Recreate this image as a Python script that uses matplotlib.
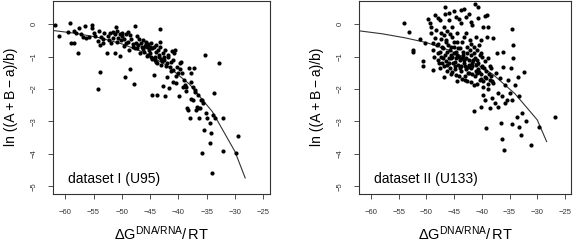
import matplotlib
matplotlib.use('Agg')
import matplotlib.pyplot as plt
import numpy as np

plt.rcParams['font.family'] = ['Liberation Sans', 'DejaVu Sans']
plt.rcParams['mathtext.fontset'] = 'custom'
plt.rcParams['mathtext.rm'] = 'Liberation Sans'
plt.rcParams['mathtext.it'] = 'Liberation Sans:italic'
plt.rcParams['mathtext.bf'] = 'Liberation Sans:bold'

# dataset I (U95): (dG/RT, ln((A+B-a)/b))
u95_x = [-61.9, -61.2, -59.1, -59.5, -59.0, -58.5, -58.1, -57.8, -57.6, -56.5,
         -56.8, -56.3, -55.3, -55.2, -55.0, -54.8, -54.3, -54.0, -54.3, -53.9,
         -53.8, -53.6, -53.3, -53.1, -52.7, -52.5, -52.1, -51.9, -51.6, -51.3,
         -51.2, -50.9, -50.6, -51.0, -50.3, -50.2, -50.0, -49.9, -49.7, -49.4,
         -49.3, -49.2, -48.9, -48.7, -48.5, -48.3, -48.1, -47.8, -47.7, -47.5,
         -47.4, -47.3, -47.1, -46.8, -46.6, -46.3, -46.2, -45.9, -45.8, -45.6,
         -45.5, -45.3, -45.2, -45.0, -44.9, -44.7, -44.6, -44.4, -44.3, -44.1,
         -43.9, -43.9, -43.7, -43.6, -43.4, -43.3, -43.3, -43.1, -43.0, -42.8,
         -42.7, -42.5, -42.4, -42.3, -42.1, -42.0, -41.8, -41.6, -41.5, -41.3,
         -41.2, -41.0, -40.9, -40.7, -40.6, -40.4, -40.3, -40.1, -39.9, -39.8,
         -39.6, -39.4, -39.1, -38.9, -38.7, -38.5, -38.3, -38.1, -37.9, -37.8,
         -37.7, -37.5, -37.4, -37.2, -37.1, -36.9, -36.7, -36.5, -36.3, -36.2,
         -36.0, -35.9, -35.7, -35.5, -35.3, -35.1, -34.9, -34.5, -34.4, -34.3,
         -34.1, -33.8, -33.7, -33.5, -32.9, -32.2, -32.1, -29.8, -29.5,
         -49.6, -49.0, -48.6, -48.0, -47.6, -47.0, -46.5, -46.0, -45.7, -45.4,
         -45.1, -44.8, -44.6, -44.2, -44.0, -43.8, -43.5, -43.2, -42.9, -42.6,
         -42.2, -41.9, -41.4, -40.9, -40.5, -39.7, -39.2, -38.6, -37.8, -37.0,
         -36.5, -35.8, -52.3, -51.6, -50.9, -50.4, -53.4, -55.8, -57.2, -58.4]
u95_y = [-0.03, -0.36, 0.02, -0.24, -0.59, -0.59, -0.29, -0.90, -0.13, -0.05,
         -0.39, -0.42, -0.03, -0.13, -0.29, -0.37, -0.51, -0.20, -2.00, -0.65,
         -1.47, -0.41, -0.59, -0.29, -0.90, -0.37, -0.27, -0.59, -0.44, -0.90,
         -0.32, -0.22, -0.42, -0.10, -0.98, -0.49, -0.37, -0.27, -0.67, -1.62,
         -0.32, -0.57, -0.24, -0.80, -1.39, -0.47, -0.70, -1.84, -0.06, -0.57,
         -0.37, -0.73, -0.65, -0.90, -0.59, -0.78, -0.49, -0.68, -0.54, -0.98,
         -0.72, -0.61, -0.80, -0.90, -0.57, -1.09, -2.18, -0.70, -1.57, -1.00,
         -0.65, -1.16, -2.18, -0.80, -0.95, -0.16, -0.54, -1.26, -1.09, -0.90,
         -1.91, -1.11, -2.23, -0.80, -1.62, -1.21, -1.00, -1.97, -1.31, -1.16,
         -0.82, -1.80, -1.41, -0.90, -0.80, -1.82, -1.31, -1.52, -2.23, -1.21,
         -1.16, -1.52, -1.72, -1.87, -1.93, -2.59, -2.64, -1.36, -2.90, -1.77,
         -1.52, -1.93, -2.34, -1.36, -2.03, -2.64, -2.54, -2.18, -2.90, -2.59,
         -2.34, -3.98, -2.44, -3.26, -0.95, -2.74, -2.90, -3.05, -3.67, -3.36,
         -4.59, -2.80, -2.11, -2.90, -1.19, -3.92, -2.90, -3.98, -3.44,
         -0.45, -0.55, -0.35, -0.60, -0.75, -0.45, -0.70, -0.85, -0.60, -0.95,
         -0.70, -1.00, -0.75, -1.10, -0.85, -1.20, -1.00, -0.70, -1.15, -1.00,
         -1.30, -0.95, -1.45, -1.10, -1.60, -1.40, -1.95, -2.05, -2.30, -2.10,
         -2.60, -2.35, -0.50, -0.25, -0.55, -0.30, -0.45, -0.40, -0.30, -0.20]

# dataset II (U133)
u133_x = [-54.0, -53.1, -51.2, -52.5, -52.4, -50.7, -50.6, -50.3, -49.7, -49.3,
          -49.1, -49.1, -48.9, -48.8, -48.6, -48.9, -48.5, -48.4, -48.2, -48.1,
          -47.9, -47.8, -47.6, -47.5, -47.3, -47.2, -47.0, -46.9, -46.8, -46.6,
          -46.5, -46.3, -46.2, -46.0, -45.9, -45.7, -45.6, -45.6, -45.4, -45.3,
          -45.1, -45.0, -44.9, -44.7, -44.6, -44.4, -44.3, -44.1, -44.0, -43.8,
          -43.7, -43.5, -43.4, -43.2, -43.1, -42.9, -42.8, -42.6, -42.5, -42.3,
          -42.2, -42.0, -41.8, -41.7, -41.5, -41.4, -41.3, -41.1, -40.9, -40.8,
          -40.7, -40.5, -40.4, -40.2, -40.2, -40.1, -39.9, -39.8, -39.7, -39.7,
          -39.5, -39.4, -39.2, -39.1, -39.0, -38.9, -38.8, -38.6, -38.5, -38.3,
          -38.2, -38.0, -37.9, -37.7, -37.5, -37.3, -37.1, -37.0, -36.7, -36.5,
          -36.4, -36.3, -36.1, -36.1, -36.0, -35.9, -35.8, -35.5, -35.2, -34.9,
          -34.8, -34.6, -34.5, -34.3, -34.3, -34.5, -34.0, -33.7, -33.4, -33.2,
          -33.2, -33.0, -32.8, -32.3, -32.1, -31.1, -29.7, -26.8,
          -47.0, -46.7, -46.4, -46.1, -45.8, -45.5, -45.2, -44.9, -44.6, -44.3,
          -44.0, -43.7, -43.4, -43.1, -42.8, -42.5, -42.2, -41.9, -41.6, -41.3,
          -41.0, -40.7, -40.4, -40.1, -39.8, -39.5, -39.2, -38.9, -38.6, -38.3,
          -47.3, -46.9, -46.5, -46.0, -45.6, -45.0, -44.7, -44.2, -43.9, -43.3,
          -43.0, -42.6, -42.3, -41.8, -41.5, -41.1, -40.6, -40.2, -39.9, -39.6,
          -45.9, -45.3, -44.8, -44.4, -43.8, -43.5, -42.9, -42.4, -41.7, -41.2,
          -40.8, -40.0, -39.3, -38.7, -38.1,
          -48.0, -47.6, -47.1, -46.2, -45.7, -44.5, -43.6, -42.7, -42.0, -40.9,
          -47.9, -47.4, -46.8, -46.3, -45.4, -44.5, -43.2, -42.0, -41.4, -40.5,
          -46.6, -45.1, -44.2, -43.3, -42.4, -41.9, -40.6, -39.4, -38.8, -47.9]
u133_y = [0.04, -0.26, -0.46, -0.80, -0.85, -1.13, -1.28, -0.59, 0.17, 0.04,
          -0.08, -0.29, -0.80, -0.59, -1.00, -1.43, -0.44, 0.28, -0.18, -0.65,
          -0.90, -1.19, 0.12, -1.36, -0.29, -0.70, -1.06, -1.62, -0.08, 0.53,
          -0.49, -0.85, -1.26, 0.33, 0.12, -0.32, -0.70, -1.06, -1.47, -0.08,
          -0.54, -0.90, -1.16, 0.23, -1.57, -0.29, -0.75, -1.00, -1.36, 0.43,
          0.02, -0.54, -0.85, -1.11, -1.72, 0.23, -0.29, -0.70, -1.31, -1.52,
          -0.49, -0.95, -1.21, -0.03, -1.87, -2.69, 0.61, -0.39, -0.80, -1.11,
          0.53, -1.47, -1.72, -0.49, -2.54, -0.90, -1.31, -2.18, -0.08, -1.93,
          -1.62, -2.34, -3.21, 0.28, -0.39, -1.06, -2.00, -1.72, -2.59, -1.36,
          -2.28, -0.44, -1.82, -2.44, -1.52, -0.90, -2.13, -2.54, -1.67, -3.05,
          -2.23, -3.54, -0.85, -1.31, -3.87, -1.87, -2.44, -2.34, -1.72, -2.13,
          -1.36, -2.34, -0.15, -0.65, -1.06, -3.07, -1.87, -2.85, -1.62, -2.23,
          -3.16, -3.41, -2.75, -1.47, -3.00, -3.74, -3.16, -2.85,
          -0.75, -0.95, -1.15, -0.65, -1.35, -0.95, -1.20, -1.40, -0.85, -1.25,
          -1.10, -1.45, -0.95, -1.30, -1.05, -1.50, -0.80, -1.35, -1.10, -1.60,
          -1.25, -1.40, -0.95, -1.55, -1.75, -1.15, -1.45, -1.85, -1.30, -1.60,
          -1.00, -1.30, -0.55, -1.05, -1.55, -0.70, -1.05, -1.60, -0.75, -1.20,
          -1.60, -0.90, -1.25, -1.55, -0.90, -1.45, -1.20, -1.70, -1.00, -1.35,
          -1.20, -1.00, -1.30, -0.95, -1.30, -1.05, -1.40, -1.10, -1.30, -1.05,
          -1.50, -1.30, -1.65, -1.55, -1.75,
          -1.10, -0.85, -1.20, -1.45, -0.80, -1.75, -1.70, -1.75, -1.80, -1.85,
          -0.60, -0.45, -0.35, -0.20, -0.40, -0.55, -0.40, -0.60, -0.70, -0.65,
          0.30, 0.40, 0.15, 0.45, 0.30, 0.05, 0.20, 0.25, -0.10, 0.20]

# fitted curves, points
fit1_x = [-62.1, -58, -54, -50, -46, -42, -38, -34, -30, -28.2]
fit1_y = [-0.20, -0.29, -0.42, -0.61, -0.88, -1.28, -1.86, -2.70, -3.93, -4.74]
fit2_x = [-62.1, -58, -54, -50, -46, -42, -38, -34, -30, -28.3]
fit2_y = [-0.21, -0.30, -0.42, -0.57, -0.80, -1.12, -1.55, -2.15, -2.95, -3.62]

panels = [
    (u95_x, u95_y, fit1_x, fit1_y, 'dataset I (U95)', [53.3, 269.5]),
    (u133_x, u133_y, fit2_x, fit2_y, 'dataset II (U133)', [359.3, 571.0]),
]

W, H = 576, 244
fig = plt.figure(figsize=(W / 100, H / 100), dpi=100)

ylab = 'ln ((A\u2009+\u2009B\u2009\u2212\u2009a)/b)'

for px, py, fx, fy, label, (left, right) in panels:
    ax = fig.add_axes([left / W, 1 - 193.5 / H, (right - left) / W, 192.5 / H])
    ax.scatter(px, py, s=9, c='black', linewidths=0, zorder=3)
    ax.plot(fx, fy, color='#333333', lw=0.8, zorder=2)
    ax.set_xlim(-62.12, -23.9)
    ax.set_ylim(-5.22, 0.71)
    ax.set_xticks(np.arange(-60, -24, 5))
    ax.set_yticks(np.arange(-5, 1, 1))
    ax.tick_params(direction='out', length=3.5, width=0.6, labelsize=5.5,
                   color='#333333', labelcolor='#333333')
    ax.tick_params(axis='x', pad=8)
    ax.tick_params(axis='y', pad=8)
    for lab in ax.get_yticklabels():
        lab.set_rotation(90)
        lab.set_va('center')
    for sp in ax.spines.values():
        sp.set_linewidth(0.8)
        sp.set_color('#333333')
    ax.text(-59.5, -4.9, label, fontsize=10, ha='left', va='baseline')
    ax.set_xlabel(r'$\Delta\mathrm{G}^{\mathrm{DNA/RNA}}/\,\mathrm{RT}$', fontsize=10.5,
                  labelpad=6)
    ax.set_ylabel(ylab, fontsize=10, labelpad=9)

fig.savefig('out.png', dpi=100)
